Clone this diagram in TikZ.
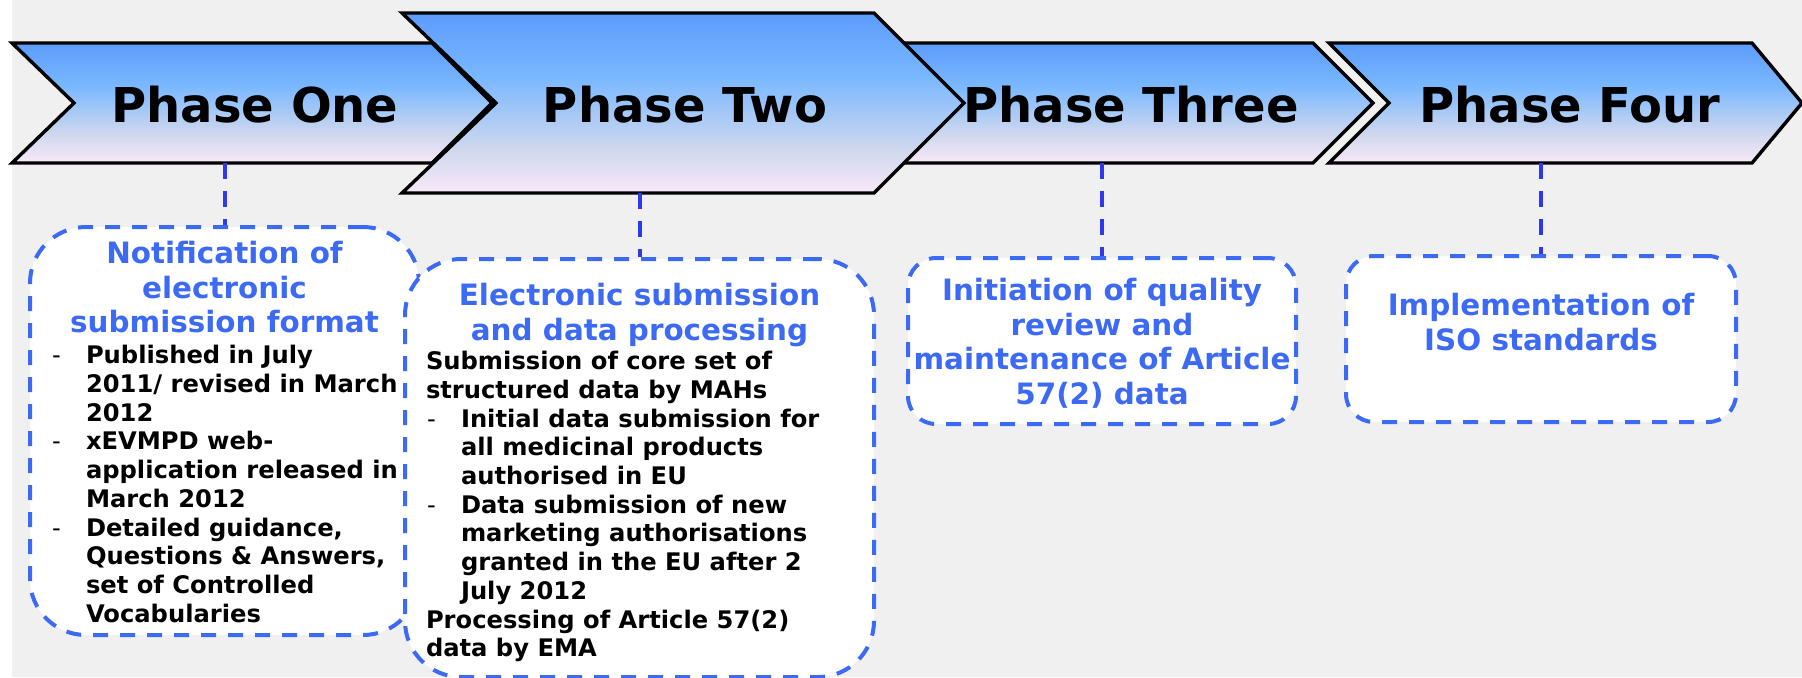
\documentclass[tikz,border=0pt]{standalone}
\usepackage{fontspec}
\setmainfont{DejaVu Sans}
\usetikzlibrary{calc}

\definecolor{bgGray}{RGB}{240,240,240}
\definecolor{boxBlue}{RGB}{61,106,245}
\definecolor{linkBlue}{RGB}{48,56,238}
\definecolor{shTop}{RGB}{92,156,252}
\definecolor{shMid}{RGB}{122,184,255}
\definecolor{shLow}{RGB}{208,216,238}
\definecolor{shBot}{RGB}{248,232,248}
\pgfdeclareverticalshading{phaseshade}{100bp}{color(0bp)=(shBot); color(25bp)=(shBot); color(37bp)=(shLow); color(57bp)=(shMid); color(75bp)=(shTop); color(100bp)=(shTop)}

\newcommand\titlefont{\fontsize{14.7}{17.35}\selectfont\bfseries}
\newcommand\bodyfont{\fontsize{12.1}{14.35}\selectfont\bfseries}
\newcommand\dashitem[1]{\par\hangindent=17.5pt\hangafter=1\noindent\makebox[17.5pt][l]{\hspace{0.5pt}\mdseries -}#1\par}

\tikzset{
  phase/.style={draw=black, line width=1.7pt, shade, shading=phaseshade},
  phasetext/.style={font=\fontsize{24}{28}\selectfont\bfseries, inner sep=0pt, text=black},
  notebox/.style={draw=boxBlue, fill=white, line width=2pt, dash pattern=on 7.5pt off 6pt, inner sep=0pt, anchor=north},
  link/.style={draw=linkBlue, line width=2pt, dash pattern=on 8pt off 6pt},
}

\begin{document}
\begin{tikzpicture}[x=0.5pt,y=-0.5pt]
  % Constants
  \pgfmathsetmacro\ytop{43}
  \pgfmathsetmacro\ybot{163}
  \pgfmathsetmacro\ymid{103}
  % Boundary
  \fill[white] (0,0) rectangle (1802,677);
  \useasboundingbox (0,0) rectangle (1802,677);
  \clip (0,0) rectangle (1802,677);
  \fill[bgGray] (12,0) rectangle (1802,677);
  % Phases
  \path[phase] (12,\ytop) -- (432,\ytop) -- (492,\ymid) -- (432,\ybot) -- (12,\ybot) -- (74,\ymid) -- cycle;
  \path[phase] (880,\ytop) -- (1313,\ytop) -- (1373,\ymid) -- (1313,\ybot) -- (880,\ybot) -- (940,\ymid) -- cycle;
  \path[phase] (1329,\ytop) -- (1752,\ytop) -- (1802,\ymid) -- (1752,\ybot) -- (1329,\ybot) -- (1389,\ymid) -- cycle;
  \path[phase] (402,13) -- (874,13) -- (964,\ymid) -- (874,193) -- (402,193) -- (496,\ymid) -- cycle;
  \node[phasetext, minimum height=58pt] (p1) at (255,105) {Phase One};
  \node[phasetext, minimum height=88pt] (p2) at (685,105) {Phase Two};
  \node[phasetext, minimum height=58pt] (p3) at (1131,105) {Phase Three};
  \node[phasetext, minimum height=58pt] (p4) at (1570,105) {Phase Four};
  % Boxes
  \node[notebox, rounded corners=28pt, minimum width=194.5pt, minimum height=204pt] (b1) at (224.5,225)
    {\parbox[c][204pt][t]{173.5pt}{\vspace*{7pt}
      {\centering\titlefont\leavevmode\color{boxBlue}Notification of\\ electronic\\ submission format\par}
      \vspace{1.2pt}
      \bodyfont
      \dashitem{Published in July\\ \mbox{2011/ revised in March}\\ 2012}
      \dashitem{xEVMPD web-\\ \mbox{application released in}\\ March 2012}
      \dashitem{Detailed guidance,\\ \mbox{Questions \& Answers,}\\ set of Controlled\\ Vocabularies}}};
  \node[notebox, rounded corners=28pt, minimum width=234.5pt, minimum height=209pt] (b2) at (639.5,257)
    {\parbox[c][209pt][t]{213.5pt}{\vspace*{12pt}
      {\centering\titlefont\leavevmode\color{boxBlue}Electronic submission\\ and data processing\par}
      \vspace{0.5pt}
      \bodyfont
      Submission of core set of\\ structured data by MAHs\par
      \dashitem{\mbox{Initial data submission for}\\ all medicinal products\\ authorised in EU}
      \dashitem{Data submission of new\\ \mbox{marketing authorisations}\\ \mbox{granted in the EU after 2}\\ July 2012}
      Processing of Article 57(2)\\ data by EMA\par}};
  \node[notebox, rounded corners=14pt, minimum width=194pt, minimum height=83pt] (b3) at (1102,256)
    {\parbox[c][83pt][t]{194pt}{\vspace*{10pt}
      \centering\titlefont\leavevmode\color{boxBlue}Initiation of quality\\ review and\\ \mbox{maintenance of Article}\\ 57(2) data\par}};
  \node[notebox, rounded corners=14pt, minimum width=195pt, minimum height=83pt] (b4) at (1541,254)
    {\parbox[c][83pt][t]{195pt}{\vspace*{18.5pt}
      \centering\titlefont\leavevmode\color{boxBlue}Implementation of\\ ISO standards\par}};
  % Links
  \draw[link] (p1.south -| b1.north) -- (b1.north);
  \draw[link] (p2.south -| b2.north) -- (b2.north);
  \draw[link] (p3.south -| b3.north) -- (b3.north);
  \draw[link] (p4.south -| b4.north) -- (b4.north);
\end{tikzpicture}
\end{document}
